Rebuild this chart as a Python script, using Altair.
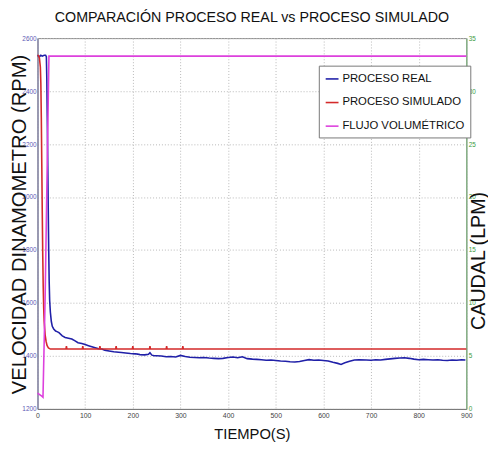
import altair as alt
import pandas as pd

# ---- data ----
t_real = [0, 4, 7, 10, 14, 17, 18.6, 19.5, 20.5, 21.5, 22.5, 23.5, 24.5, 25.5, 27, 29, 31, 34, 38, 41, 45,
          52, 58, 65, 72, 78, 85, 93, 100, 107, 114, 121, 128, 135, 141, 150, 160, 170, 176, 185, 195,
          205, 210, 215, 225, 233, 236, 240, 245, 250, 260, 270, 279, 290, 300, 310, 320, 330, 340, 348,
          360, 370, 380, 389, 400, 410, 420, 430, 440, 451, 460, 470, 480, 490, 500, 510, 520, 530, 540,
          550, 560, 570, 580, 590, 600, 610, 620, 630, 637, 645, 655, 665, 675, 690, 700, 710, 720, 730,
          740, 750, 760, 770, 780, 790, 800, 810, 820, 830, 840, 850, 860, 870, 880, 890, 898]
v_real = [2535, 2530, 2535, 2532, 2535, 2535, 2530, 2450, 2300, 2130, 1960, 1800, 1680, 1610, 1565, 1530,
          1512, 1502, 1494, 1492, 1488, 1476, 1470, 1467, 1464, 1458, 1450, 1447, 1443, 1439, 1435, 1431,
          1427, 1426, 1422, 1419, 1416, 1414, 1413, 1411, 1409, 1408, 1407, 1405, 1404, 1406, 1412, 1403,
          1401, 1401, 1400, 1397, 1398, 1396, 1402, 1398, 1395, 1394, 1393, 1394, 1392, 1391, 1390, 1391,
          1394, 1396, 1393, 1397, 1390, 1388, 1387, 1386, 1384, 1385, 1383, 1381, 1380, 1378, 1377, 1379,
          1383, 1386, 1384, 1385, 1383, 1381, 1376, 1372, 1368, 1374, 1380, 1385, 1386, 1385, 1384, 1386,
          1385, 1387, 1389, 1391, 1392, 1393, 1391, 1388, 1386, 1387, 1386, 1385, 1386, 1384, 1383, 1385,
          1384, 1386, 1385]

t_sim = [0, 2, 4, 6, 7, 8, 9, 10, 11, 12, 13, 14, 16, 18, 20, 23, 27,
         59.7, 60.7, 61.7, 94, 95, 96, 130, 131, 132, 164, 165, 166, 199, 200, 201,
         235, 236, 237, 270, 271, 272, 304, 305, 306, 900]
v_sim = [2535, 2534, 2525, 2490, 2430, 2300, 2120, 1940, 1780, 1660, 1580, 1530, 1480, 1455, 1440, 1430, 1426,
         1426, 1437, 1426, 1426, 1437, 1426, 1426, 1437, 1426, 1426, 1437, 1426, 1426, 1437, 1426,
         1426, 1437, 1426, 1426, 1437, 1426, 1426, 1437, 1426, 1426]

t_flujo = [0, 3, 6, 9, 11.5, 16, 20, 24, 900]
v_flujo = [1.5, 1.4, 1.3, 1.2, 1.1, 10.5, 22, 33.3, 33.3]

series = ["PROCESO REAL", "PROCESO SIMULADO", "FLUJO VOLUMÉTRICO"]
colors = ["#2020a8", "#d42a2a", "#dd40dd"]

x_ticks = [0, 100, 200, 300, 400, 500, 600, 700, 800, 900]
yl_ticks = [1200, 1400, 1600, 1800, 2000, 2200, 2400, 2600]
yr_ticks = [0, 5, 10, 15, 20, 25, 30, 35]

left_df = pd.concat([
    pd.DataFrame({"t": t_real, "v": v_real, "serie": series[0]}),
    pd.DataFrame({"t": t_sim, "v": v_sim, "serie": series[1]}),
])
right_df = pd.DataFrame({"t": t_flujo, "q": v_flujo, "serie": series[2]})

FONT = "Liberation Sans"

color = alt.Color(
    "serie:N",
    scale=alt.Scale(domain=series, range=colors),
    title=None,
    legend=alt.Legend(
        orient="none", legendX=286, legendY=28,
        symbolType="stroke", symbolSize=170, symbolStrokeWidth=1.6,
        labelFont=FONT, labelFontSize=11.5, labelColor="#111",
        rowPadding=11, padding=6, labelOffset=3,
        strokeColor="#777", fillColor="white", cornerRadius=0,
    ),
)

xenc = alt.X(
    "t:Q",
    scale=alt.Scale(domain=[0, 900], nice=False),
    axis=alt.Axis(
        values=x_ticks, format="d", title="TIEMPO(S)", titleFont=FONT, titleFontSize=15,
        titleFontWeight="normal", titleColor="#111", titleBaseline="top", titleY=18,
        labelFont=FONT, labelFontSize=7, labelColor="#444", labelPadding=3,
        tickSize=0, domainColor="#777", grid=True, gridColor="#b8b8b8",
        gridDash=[1, 2], labelFlush=False,
    ),
)

left = alt.Chart(left_df).mark_line(strokeWidth=1.6).encode(
    x=xenc,
    y=alt.Y(
        "v:Q",
        scale=alt.Scale(domain=[1200, 2600], nice=False),
        axis=alt.Axis(
            values=yl_ticks, format="d", title="VELOCIDAD DINAMOMETRO (RPM)", titleFont=FONT,
            titleFontSize=20.5, titleFontWeight="normal", titleColor="#111",
            titleAngle=270, titleBaseline="middle", titleX=-18.5, titleY=189,
            labelFont=FONT, labelFontSize=6.5, labelColor="#5a5ab4", labelPadding=1.5,
            tickSize=0, domainColor="#7070a0", grid=True, gridColor="#b8b8b8",
            gridDash=[1, 2], labelFlush=False,
        ),
    ),
    color=color,
    order="t:Q",
)

right = alt.Chart(right_df).mark_line(strokeWidth=1.6).encode(
    x=xenc,
    y=alt.Y(
        "q:Q",
        scale=alt.Scale(domain=[0, 35], nice=False),
        axis=alt.Axis(
            orient="right", values=yr_ticks, format="d", title="CAUDAL (LPM)", titleFont=FONT,
            titleFontSize=20, titleFontWeight="normal", titleColor="#111",
            titleAngle=270, titleBaseline="middle", titleX=12.5, titleY=226,
            labelFont=FONT, labelFontSize=6.5, labelColor="#3a9a3a", labelPadding=2,
            tickSize=0, domainColor="#70b070", grid=False, labelFlush=False,
        ),
    ),
    color=color,
    order="t:Q",
)

chart = alt.layer(left, right).resolve_scale(y="independent").properties(
    width=436, height=377,
    autosize=alt.AutoSizeParams(type="none"),
    padding={"left": 30, "top": 27, "right": 22, "bottom": 30},
    title=alt.TitleParams(
        "COMPARACIÓN PROCESO REAL vs PROCESO SIMULADO",
        font=FONT, fontSize=14.5, fontWeight="normal", color="#111", offset=10, anchor="middle",
    ),
    background="white",
).configure_view(stroke="#888", strokeWidth=1)

chart.save("out.html", embed_options={"renderer": "svg", "actions": False})
